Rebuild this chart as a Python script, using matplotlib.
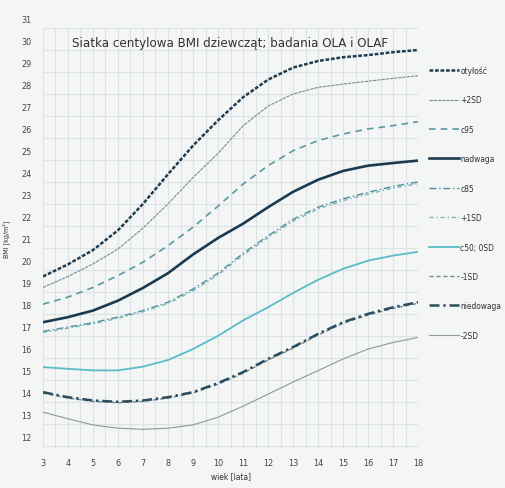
import numpy as np
import matplotlib
matplotlib.use("Agg")
import matplotlib.pyplot as plt
from matplotlib.transforms import ScaledTranslation

plt.rcParams['font.family'] = ['DejaVu Sans']
plt.rcParams['font.stretch'] = 'condensed'

# wiek (lata)
ages = list(range(3, 19))

# centyle BMI dziewczat
otylosc = [19.7, 20.25, 20.9, 21.8, 23.0, 24.35, 25.65, 26.8, 27.85, 28.65, 29.2, 29.5, 29.67, 29.77, 29.9, 30.0]
plus2sd = [19.2, 19.7, 20.27, 20.95, 21.9, 23.0, 24.2, 25.3, 26.55, 27.45, 28.0, 28.3, 28.45, 28.58, 28.71, 28.83]
c95 = [18.44, 18.76, 19.2, 19.74, 20.35, 21.1, 21.94, 22.9, 23.9, 24.74, 25.42, 25.88, 26.18, 26.41, 26.56, 26.74]
nadwaga = [17.62, 17.85, 18.15, 18.6, 19.18, 19.85, 20.7, 21.45, 22.1, 22.85, 23.55, 24.1, 24.5, 24.74, 24.86, 24.97]
c85 = [17.2, 17.4, 17.6, 17.85, 18.15, 18.53, 19.13, 19.85, 20.75, 21.55, 22.3, 22.85, 23.23, 23.53, 23.8, 24.0]
plus1sd = [17.15, 17.35, 17.55, 17.8, 18.1, 18.47, 19.05, 19.77, 20.67, 21.47, 22.22, 22.77, 23.15, 23.45, 23.72, 23.92]
c50 = [15.58, 15.5, 15.43, 15.43, 15.6, 15.9, 16.4, 17.0, 17.7, 18.3, 18.95, 19.55, 20.05, 20.42, 20.65, 20.82]
minus1sd = [14.4, 14.17, 14.02, 13.96, 14.02, 14.17, 14.4, 14.8, 15.3, 15.9, 16.44, 17.04, 17.57, 17.95, 18.25, 18.48]
niedowaga = [14.44, 14.21, 14.06, 14.0, 14.06, 14.21, 14.44, 14.85, 15.35, 15.95, 16.49, 17.09, 17.62, 18.0, 18.3, 18.53]
minus2sd = [13.53, 13.23, 12.95, 12.8, 12.75, 12.8, 12.95, 13.3, 13.8, 14.35, 14.9, 15.42, 15.95, 16.4, 16.7, 16.93]

labels = ['otyłość', '+2SD', 'c95', 'nadwaga', 'c85', '+1SD', 'c50; 0SD', '-1SD', 'niedowaga', '-2SD']
series = [otylosc, plus2sd, c95, nadwaga, c85, plus1sd, c50, minus1sd, niedowaga, minus2sd]

# styl linii: kolor, szerokosc, wzor
styles = [
    ('#1e3d52', 1.8, (0, (1.5, 0.7))),
    ('#7d8b91', 0.8, (0, (3, 0.8))),
    ('#5a9aa3', 1.2, (0, (4, 3))),
    ('#1b3a4e', 1.9, '-'),
    ('#4f8f9c', 1.0, (0, (5, 2, 1, 2))),
    ('#7ab3bb', 1.0, (0, (3, 2, 1, 2))),
    ('#5bbcc4', 1.3, '-'),
    ('#6f8a92', 1.0, (0, (3, 2))),
    ('#2b4d5e', 1.8, (0, (4, 1.5, 1, 1.5))),
    ('#8e989c', 0.8, '-'),
]

bg = '#f4f5f5'
fig = plt.figure(figsize=(5.05, 4.89), dpi=100, facecolor=bg)
ax = fig.add_axes([0.085, 0.0818, 0.743, 0.8589], facecolor=bg)

for vals, lab, (col, lw, ls) in zip(series, labels, styles):
    ax.plot(ages, vals, color=col, lw=lw, ls=ls, label=lab)

ax.set_xlim(3, 18)
ax.set_ylim(11.9, 31)
ax.set_xticks(ages)
ax.set_xticks(np.arange(3, 18.01, 0.5), minor=True)
ax.set_yticks(range(12, 32))
ax.grid(True, which='both', axis='x', color='#dde2e3', lw=0.8)
ax.grid(True, which='major', axis='y', color='#dde2e3', lw=0.8)
ax.set_axisbelow(True)
for s in ax.spines.values():
    s.set_visible(False)
ax.tick_params(axis='both', which='both', length=0, labelsize=6.5, labelcolor='#444444')
ax.tick_params(axis='y', pad=8)
ax.tick_params(axis='x', pad=7)

# etykiety osi Y lekko nad liniami siatki, jak w oryginale
off = ScaledTranslation(0, 7 / 72, fig.dpi_scale_trans)
for t in ax.yaxis.get_majorticklabels():
    t.set_transform(t.get_transform() + off)

ax.set_xlabel('wiek [lata]', fontsize=6, color='#333333', labelpad=3)
ax.set_ylabel('BMI [kg/m²]', fontsize=5, color='#333333', labelpad=8)

ax.text(10.5, 30.35, 'Siatka centylowa BMI dziewcząt; badania OLA i OLAF',
        ha='center', va='center', fontsize=9.5, color='#333333')

fig.legend(loc='upper left', bbox_to_anchor=(0.85, 0.864), frameon=False,
           fontsize=6, handlelength=3.6, handletextpad=0.15,
           labelspacing=2.45, borderpad=0, borderaxespad=0,
           labelcolor='#333333')

fig.savefig('out.png', dpi=100, facecolor=bg)
